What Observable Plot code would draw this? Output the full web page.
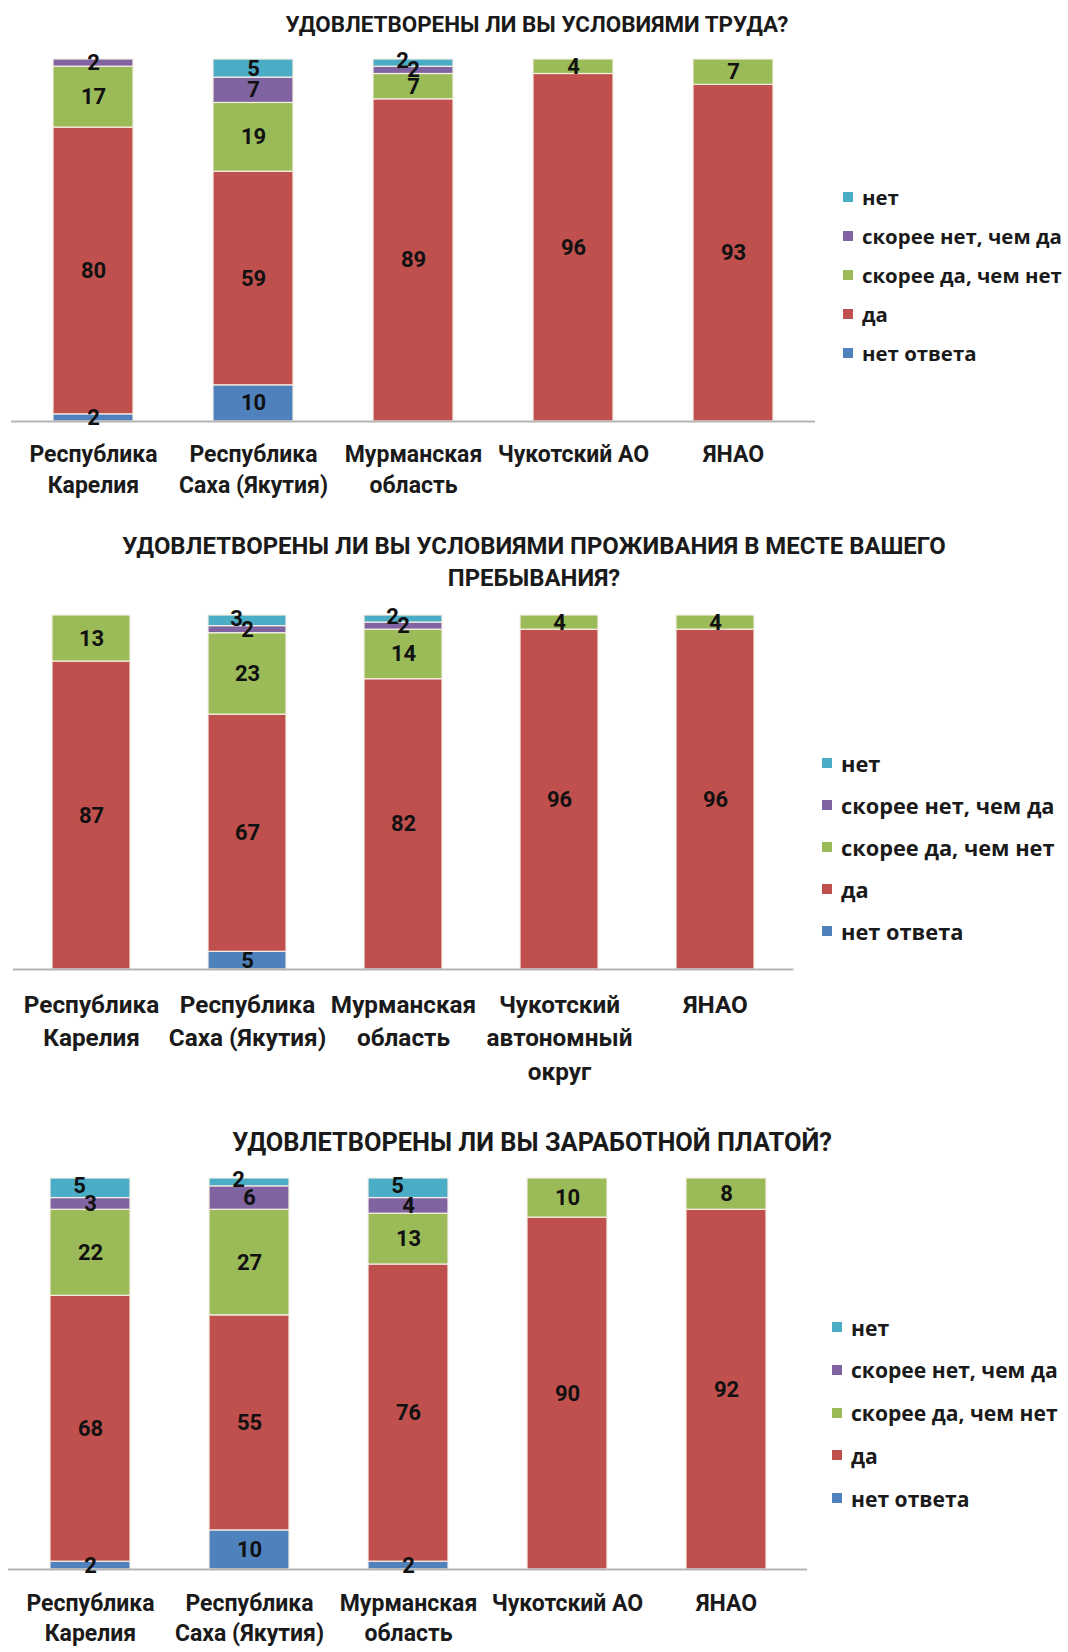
<!DOCTYPE html>
<html>
<head>
<meta charset="utf-8">
<script src="https://cdn.jsdelivr.net/npm/d3@7"></script>
<script src="https://cdn.jsdelivr.net/npm/@observablehq/plot@0.6"></script>
<style>
  body { margin: 0; background: #ffffff; }
  #page { position: relative; width: 1068px; height: 1652px; overflow: hidden; background: #fff; }
  .title { position: absolute; text-align: center; font-family: Roboto, "Noto Sans", sans-serif; font-weight: bold; color: #1a1a1a; white-space: nowrap; }
  .plot { position: absolute; left: 0; }
  .legend-item { position: absolute; display: flex; align-items: center; font-family: "Open Sans", "Noto Sans", sans-serif; font-weight: bold; color: #1a1a1a; white-space: nowrap; }
  .swatch { display: inline-block; width: 10px; height: 10px; margin-right: 9px; }
</style>
</head>
<body>
<div id="page"></div>
<script>
// ---------- DATA ----------
// stacking order (bottom to top)
const responses = ["нет ответа", "да", "скорее да, чем нет", "скорее нет, чем да", "нет"];
const responseColors = ["#4F81BD", "#C0504D", "#9BBB59", "#8064A2", "#4BACC6"];
const legendOrder = ["нет", "скорее нет, чем да", "скорее да, чем нет", "да", "нет ответа"];

const regions = ["Республика Карелия", "Республика Саха (Якутия)", "Мурманская область", "Чукотский АО", "ЯНАО"];

const tickLabelsWork = ["Республика\nКарелия", "Республика\nСаха (Якутия)", "Мурманская\nобласть", "Чукотский АО", "ЯНАО"];
const tickLabelsHousing = ["Республика\nКарелия", "Республика\nСаха (Якутия)", "Мурманская\nобласть", "Чукотский\nавтономный\nокруг", "ЯНАО"];
const tickLabelsSalary = ["Республика\nКарелия", "Республика\nСаха (Якутия)", "Мурманская\nобласть", "Чукотский АО", "ЯНАО"];

const titleWork = ["УДОВЛЕТВОРЕНЫ ЛИ ВЫ УСЛОВИЯМИ ТРУДА?"];
const titleHousing = ["УДОВЛЕТВОРЕНЫ ЛИ ВЫ УСЛОВИЯМИ ПРОЖИВАНИЯ В МЕСТЕ ВАШЕГО", "ПРЕБЫВАНИЯ?"];
const titleSalary = ["УДОВЛЕТВОРЕНЫ ЛИ ВЫ ЗАРАБОТНОЙ ПЛАТОЙ?"];

// Chart 1: working conditions (values per region)
const workNoAnswer   = [2, 10, 0, 0, 0];
const workYes        = [80, 59, 89, 96, 93];
const workRatherYes  = [17, 19, 7, 4, 7];
const workRatherNo   = [2, 7, 2, 0, 0];
const workNo         = [0, 5, 2, 0, 0];

// Chart 2: living conditions
const housingNoAnswer  = [0, 5, 0, 0, 0];
const housingYes       = [87, 67, 82, 96, 96];
const housingRatherYes = [13, 23, 14, 4, 4];
const housingRatherNo  = [0, 2, 2, 0, 0];
const housingNo        = [0, 3, 2, 0, 0];

// Chart 3: salary
const salaryNoAnswer  = [2, 10, 2, 0, 0];
const salaryYes       = [68, 55, 76, 90, 92];
const salaryRatherYes = [22, 27, 13, 10, 8];
const salaryRatherNo  = [3, 6, 4, 0, 0];
const salaryNo        = [5, 2, 5, 0, 0];

// ---------- LAYOUT ----------
const charts = [
  {
    title: titleWork, titleCx: 537, titleTop: 9, titleSize: 22.4, titleLH: 30,
    series: [workNoAnswer, workYes, workRatherYes, workRatherNo, workNo],
    ticks: tickLabelsWork,
    svgTop: 50, marginTop: 9, inner: 362, marginBottom: 82, r0: 11, r1: 815,
    tickSize: 23, tickPadding: 19, lineHeight: 1.33,
    legendX: 843, legendY: 197, legendStep: 39, legendSize: 20.4
  },
  {
    title: titleHousing, titleCx: 534, titleTop: 531, titleSize: 23.9, titleLH: 31.5,
    series: [housingNoAnswer, housingYes, housingRatherYes, housingRatherNo, housingNo],
    ticks: tickLabelsHousing,
    svgTop: 600, marginTop: 15, inner: 354, marginBottom: 120, r0: 13, r1: 793.5,
    tickSize: 24.3, tickPadding: 20, lineHeight: 1.37,
    legendX: 822, legendY: 763, legendStep: 42, legendSize: 21.8
  },
  {
    title: titleSalary, titleCx: 532, titleTop: 1127, titleSize: 25.4, titleLH: 30,
    series: [salaryNoAnswer, salaryYes, salaryRatherYes, salaryRatherNo, salaryNo],
    ticks: tickLabelsSalary,
    svgTop: 1165, marginTop: 13, inner: 391, marginBottom: 80, r0: 8, r1: 807,
    tickSize: 23, tickPadding: 20, lineHeight: 1.32,
    legendX: 832, legendY: 1327, legendStep: 42.8, legendSize: 21.1
  }
];

const page = document.getElementById("page");
const SVGW = 830;

charts.forEach(c => {
  // title
  const t = document.createElement("div");
  t.className = "title";
  t.style.left = (c.titleCx - 500) + "px";
  t.style.width = "1000px";
  t.style.top = c.titleTop + "px";
  t.style.fontSize = c.titleSize + "px";
  t.style.lineHeight = c.titleLH + "px";
  t.innerHTML = c.title.join("<br>");
  page.appendChild(t);

  // data table
  const ratherNoIdx = responses.indexOf("скорее нет, чем да");
  const table = regions.flatMap((r, i) =>
    responses.map((resp, j) => ({
      region: r, response: resp, value: c.series[j][i],
      // label of the top "нет" slice is nudged left when it would collide with a small neighbour label
      nudge: resp === "нет" && c.series[ratherNoIdx][i] > 0 && c.series[ratherNoIdx][i] < 7
    }))
  ).filter(d => d.value > 0);

  const stackOpts = {x: "region", y: "value", z: "response", order: responses, offset: "normalize"};
  const labelStyle = {fontSize: 22, fontWeight: "bold", fill: "#111", fontFamily: "Roboto, sans-serif"};

  const chart = Plot.plot({
    width: SVGW,
    height: c.marginTop + c.inner + c.marginBottom,
    marginTop: c.marginTop,
    marginBottom: c.marginBottom,
    marginLeft: c.r0,
    marginRight: SVGW - c.r1,
    style: {background: "transparent", overflow: "visible"},
    x: {domain: regions, paddingInner: 0.5, paddingOuter: 0.25, align: 0.5, label: null},
    y: {domain: [0, 1], axis: null},
    color: {domain: responses, range: responseColors},
    marks: [
      Plot.barY(table, Plot.stackY({
        ...stackOpts, fill: "response", stroke: "#f6efe4", strokeWidth: 1.2
      })),
      Plot.ruleY([0], {stroke: "#b5b5b5", strokeWidth: 2}),
      Plot.text(table, Plot.stackY({
        ...stackOpts, ...labelStyle, text: d => d.nudge ? null : d.value
      })),
      Plot.text(table, Plot.stackY({
        ...stackOpts, ...labelStyle, text: d => d.nudge ? d.value : null, dx: -11, dy: -2
      })),
      Plot.axisX({
        tickSize: 0, tickPadding: c.tickPadding, fontSize: c.tickSize, fontWeight: "bold",
        fill: "#1a1a1a", lineHeight: c.lineHeight, fontFamily: "Roboto, sans-serif",
        tickFormat: d => c.ticks[regions.indexOf(d)], label: null
      })
    ]
  });
  chart.classList.add("plot");
  chart.style.position = "absolute";
  chart.style.top = c.svgTop + "px";
  chart.style.left = "0px";
  page.appendChild(chart);

  // legend
  legendOrder.forEach((name, k) => {
    const item = document.createElement("div");
    item.className = "legend-item";
    item.style.left = c.legendX + "px";
    item.style.top = (c.legendY + k * c.legendStep - 15) + "px";
    item.style.height = "30px";
    item.style.fontSize = c.legendSize + "px";
    const sw = document.createElement("span");
    sw.className = "swatch";
    sw.style.background = responseColors[responses.indexOf(name)];
    const tx = document.createElement("span");
    tx.textContent = name;
    item.appendChild(sw);
    item.appendChild(tx);
    page.appendChild(item);
  });
});
</script>
</body>
</html>
